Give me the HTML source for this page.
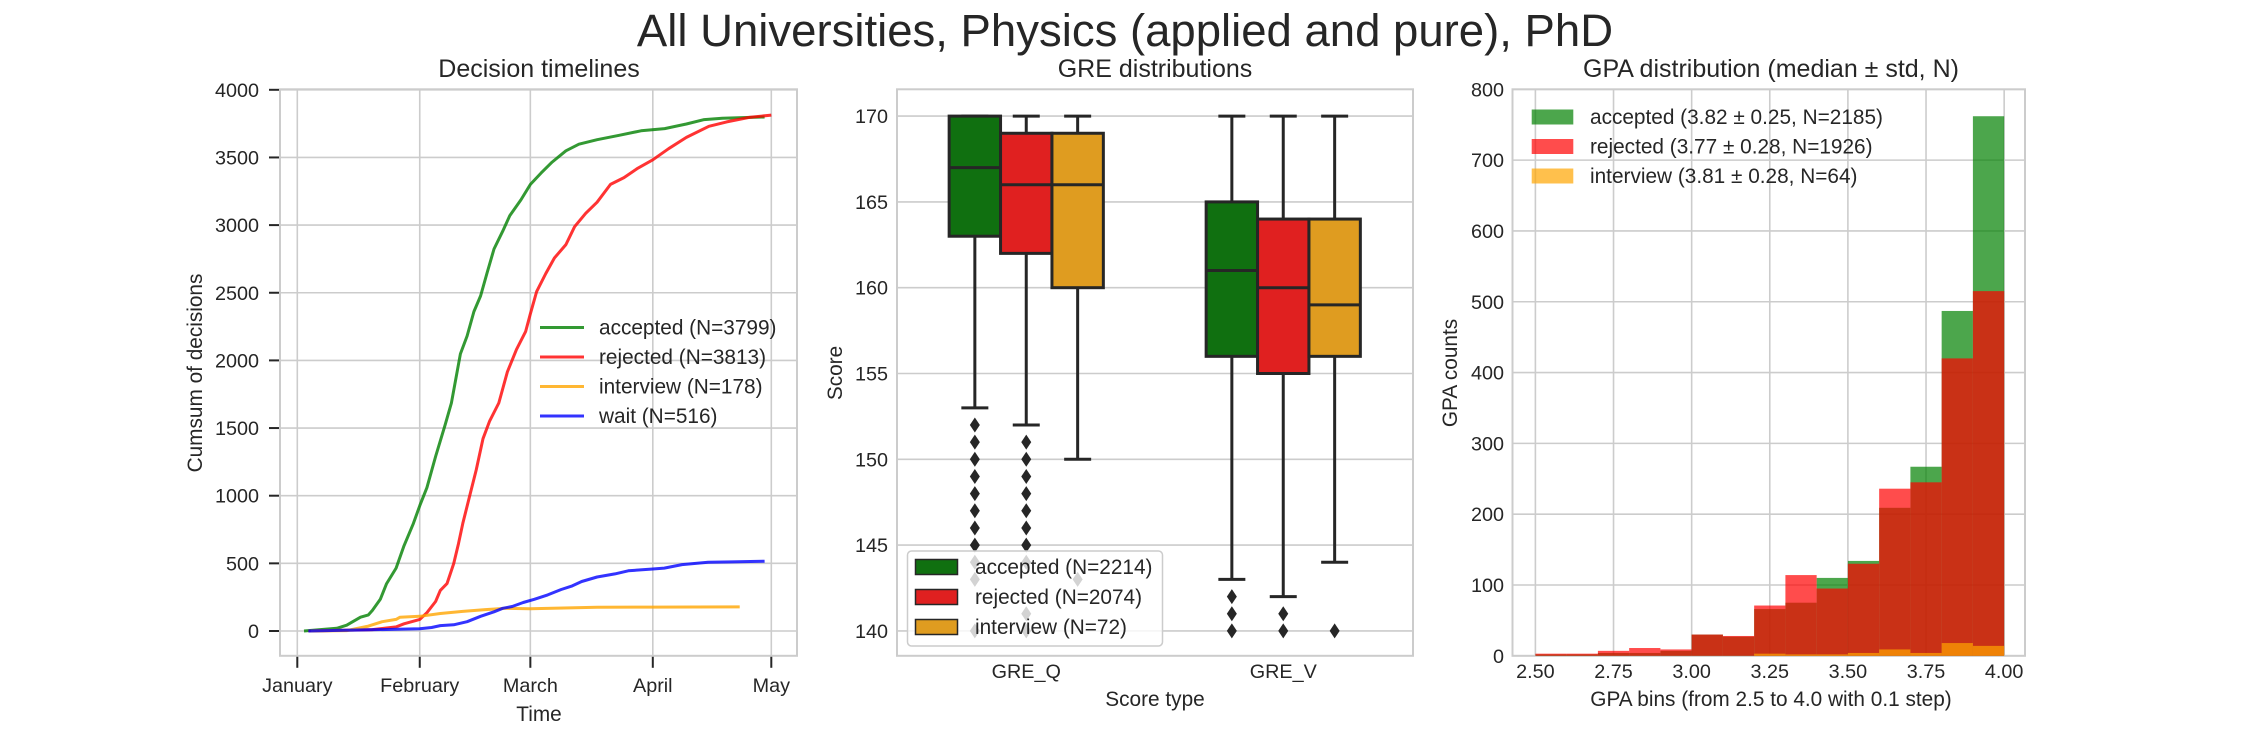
<!DOCTYPE html>
<html><head><meta charset="utf-8"><style>
body{margin:0;background:#fff}
svg{display:block;font-family:"Liberation Sans",Arial,sans-serif;fill:#262626}
</style></head><body>
<svg id="fig" width="2250" height="750" viewBox="0 0 2250 750" xmlns="http://www.w3.org/2000/svg">
<rect width="2250" height="750" fill="#fff"/>
<text x="1125" y="46" font-size="45.5" text-anchor="middle">All Universities, Physics (applied and pure), PhD</text>
<g id="p1"></g>
<g id="p2"></g>
<g id="p3"></g>
</svg>
<script>
// ---- Panel 1 data (day of year, cumulative count) ----
const monthLabels = ["January","February","March","April","May"];
const monthDays = [0,31,59,90,120];
const p1YTicks = [0,500,1000,1500,2000,2500,3000,3500,4000];
const accDays = [1.7,10,12.5,16,18,19,21,22.6,25,27,29.4,31,32.8,35,37.4,39,41.3,43,44.7,46.4,48,49.8,52,53.8,56.6,59,61.7,64.5,68,71.3,75.9,81.5,87,93,98.5,103,107.6,118.3];
const accVals = [0,20,43,102,119,152,234,350,465,630,795,927,1059,1290,1520,1685,2048,2180,2361,2477,2642,2823,2955,3070,3186,3301,3384,3466,3549,3598,3631,3664,3697,3713,3747,3780,3790,3799];
const rejDays = [2.8,19,25,27,31,32.8,35,36.2,37.9,39.6,40.8,41.9,43.6,45.3,47,48.7,51,53.2,55.5,57.8,59,60.6,62.9,65.1,68,70.2,73,75.9,79.3,82.7,86,90,94,98.5,104.2,108.7,114.4,120];
const rejVals = [0,10,30,53,86,135,218,300,350,498,646,795,993,1190,1421,1553,1685,1916,2081,2213,2345,2510,2642,2757,2856,2988,3087,3169,3301,3351,3417,3483,3565,3648,3730,3763,3796,3813];
const intDays = [3.4,12.5,18,21.5,25,26,31,36.2,41.9,47.6,53,59,75.9,90,112];
const intVals = [0,3,36,69,86,102,109,129,145,158,168,165,175,177,178];
const waitDays = [2.8,31,34,36.2,39.6,43,46.4,49.8,52,54.4,57.2,60,63.4,66.8,69.6,72,75.9,80.4,83.8,90,92.9,97.4,104,110,118.3];
const waitVals = [0,16,26,40,46,69,109,142,168,181,211,234,267,307,333,366,399,422,445,458,465,491,508,511,516];

// ---- Panel 2 data (box stats: whislo, q1, med, q3, whishi) ----
const greCategories = ["GRE_Q","GRE_V"];
const greTicks = [140,145,150,155,160,165,170];
const accBoxQ = [153,163,167,170,170];
const rejBoxQ = [152,162,166,169,170];
const intBoxQ = [150,160,166,169,170];
const accBoxV = [143,156,161,165,170];
const rejBoxV = [142,155,160,164,170];
const intBoxV = [144,156,159,164,170];
const accOutQ = [152,151,150,149,148,147,146,145,144,143,140];
const rejOutQ = [151,150,149,148,147,146,145,144,141,140];
const intOutQ = [143];
const accOutV = [142,141,140];
const rejOutV = [141,140];
const intOutV = [140];

// ---- Panel 3 data (GPA histogram counts per 0.1 bin from 2.5) ----
const gpaBinStarts = [2.5,2.6,2.7,2.8,2.9,3.0,3.1,3.2,3.3,3.4,3.5,3.6,3.7,3.8,3.9];
const gpaAccepted = [2,2,4,4,7,30,27,66,75,110,134,209,267,487,762];
const gpaRejected = [3,3,7,11,9,30,28,71,114,95,130,236,245,420,515];
const gpaInterview = [0,0,0,0,0,0,0,3,2,2,4,9,4,18,14];
const gpaTicks = [2.5,2.75,3.0,3.25,3.5,3.75,4.0];
const gpaYTicks = [0,100,200,300,400,500,600,700,800];

const NS="http://www.w3.org/2000/svg";
function mk(parent,tag,attrs,text){const e=document.createElementNS(NS,tag);for(const k in attrs)e.setAttribute(k,attrs[k]);if(text!==undefined)e.textContent=text;parent.appendChild(e);return e;}
const GRID="#cccccc", DARK="#262626";

// ================= Panel 1 =================
(function(){
const g=document.getElementById('p1');
const L=280,R=797,T=89.3,B=655.8;
const xs=d=>297.3+d*3.95, ys=v=>631-v*0.1353;
p1YTicks.forEach(v=>{
  const l=mk(g,'line',{x1:L,x2:R,y1:ys(v),y2:ys(v),stroke:GRID,'stroke-width':1.6});
  
  
  const tk=mk(g,'line',{x1:L-11,x2:L,y1:ys(v),y2:ys(v),stroke:DARK,'stroke-width':2});
  
  
  const t=mk(g,'text',{x:259,y:ys(v)+7,'font-size':19.8,'text-anchor':'end'},String(v));
  
  
});
monthDays.forEach((d,i)=>{
  const l=mk(g,'line',{x1:xs(d),x2:xs(d),y1:T,y2:B,stroke:GRID,'stroke-width':1.6});
  
  
  const tk=mk(g,'line',{x1:xs(d),x2:xs(d),y1:B,y2:B+12,stroke:DARK,'stroke-width':2});
  
  
  const t=mk(g,'text',{x:xs(d),y:692,'font-size':19.8,'text-anchor':'middle'},monthLabels[i]);
  
  
});
const fr=mk(g,'rect',{x:L,y:T,width:R-L,height:B-T,fill:'none',stroke:GRID,'stroke-width':2});


const series=[[accDays,accVals,'green','accepted'],[rejDays,rejVals,'red','rejected'],[intDays,intVals,'orange','interview'],[waitDays,waitVals,'blue','wait']];
series.forEach(s=>{
  const pts=s[0].map((d,i)=>xs(d).toFixed(1)+','+ys(s[1][i]).toFixed(1)).join(' ');
  const pl=mk(g,'polyline',{points:pts,fill:'none',stroke:s[2],'stroke-opacity':0.8,'stroke-width':3,'stroke-linejoin':'round'});
  
  
});
const leg=[['green','accepted (N=3799)'],['red','rejected (N=3813)'],['orange','interview (N=178)'],['blue','wait (N=516)']];
const ly=[327.5,357,386.5,416];
leg.forEach((e,i)=>{
  const l=mk(g,'line',{x1:540,x2:584,y1:ly[i],y2:ly[i],stroke:e[0],'stroke-opacity':0.8,'stroke-width':3});
  
  
  const t=mk(g,'text',{x:599,y:ly[i]+7,'font-size':20.8},e[1]);
  
  
});
const tt=mk(g,'text',{x:539,y:77,'font-size':25,'text-anchor':'middle'},'Decision timelines');


const xl=mk(g,'text',{x:539,y:721,'font-size':20.8,'text-anchor':'middle'},'Time');


const yl=mk(g,'text',{x:0,y:0,'font-size':20.8,'text-anchor':'middle',transform:'translate(202,373) rotate(-90)'},'Cumsum of decisions');


})();

// ================= Panel 2 =================
(function(){
const g=document.getElementById('p2');
const L=897,R=1413,T=89.3,B=655.8;
const ys=v=>116.1+(170-v)*17.16;
const cx=i=>1026.25+i*257;
greTicks.forEach(v=>{
  const l=mk(g,'line',{x1:L,x2:R,y1:ys(v),y2:ys(v),stroke:GRID,'stroke-width':1.6});
  
  
  const t=mk(g,'text',{x:888,y:ys(v)+7,'font-size':19.8,'text-anchor':'end'},String(v));
  
  
});
const fr=mk(g,'rect',{x:L,y:T,width:R-L,height:B-T,fill:'none',stroke:GRID,'stroke-width':2});


const colors=['#107010','#e02020','#df9c20'];
const names=['accepted','rejected','interview'];
const boxes=[[accBoxQ,rejBoxQ,intBoxQ],[accBoxV,rejBoxV,intBoxV]];
const outs=[[accOutQ,rejOutQ,intOutQ],[accOutV,rejOutV,intOutV]];
const bw=51.4;
boxes.forEach((grp,ci)=>{
  grp.forEach((s,hi)=>{
    const c=cx(ci)+(hi-1)*bw;
    const w1=mk(g,'line',{x1:c,x2:c,y1:ys(s[0]),y2:ys(s[1]),stroke:DARK,'stroke-width':3});
    
    
    const w2=mk(g,'line',{x1:c,x2:c,y1:ys(s[3]),y2:ys(s[4]),stroke:DARK,'stroke-width':3});
    
    
    [s[0],s[4]].forEach(v=>{
      const cap=mk(g,'line',{x1:c-13.5,x2:c+13.5,y1:ys(v),y2:ys(v),stroke:DARK,'stroke-width':3});
      
      
    });
    const b=mk(g,'rect',{x:c-bw/2,y:ys(s[3]),width:bw,height:ys(s[1])-ys(s[3]),fill:colors[hi],stroke:DARK,'stroke-width':3});
    
    
    const m=mk(g,'line',{x1:c-bw/2,x2:c+bw/2,y1:ys(s[2]),y2:ys(s[2]),stroke:DARK,'stroke-width':3});
    
    
    outs[ci][hi].forEach(v=>{
      const y=ys(v);
      const d=mk(g,'polygon',{points:`${c},${y-7.5} ${c+5},${y} ${c},${y+7.5} ${c-5},${y}`,fill:DARK});
      
      
    });
  });
  const t=mk(g,'text',{x:cx(ci),y:678,'font-size':19.8,'text-anchor':'middle'},greCategories[ci]);
  
  
});
const lg=mk(g,'rect',{x:907.5,y:551,width:255,height:95,rx:4,fill:'#fff','fill-opacity':0.8,stroke:GRID,'stroke-width':1.5});


const lt=['accepted (N=2214)','rejected (N=2074)','interview (N=72)'];
const lys=[567,597,627];
lt.forEach((s,i)=>{
  const p=mk(g,'rect',{x:915.5,y:lys[i]-7.5,width:42,height:15,fill:colors[i],stroke:DARK,'stroke-width':1.5});
  
  
  const t=mk(g,'text',{x:975,y:lys[i]+7,'font-size':20.8},s);
  
  
});
const tt=mk(g,'text',{x:1155,y:77,'font-size':25,'text-anchor':'middle'},'GRE distributions');


const xl=mk(g,'text',{x:1155,y:706,'font-size':20.8,'text-anchor':'middle'},'Score type');


const yl=mk(g,'text',{x:0,y:0,'font-size':20.8,'text-anchor':'middle',transform:'translate(842,373) rotate(-90)'},'Score');


})();

// ================= Panel 3 =================
(function(){
const g=document.getElementById('p3');
const L=1512.5,R=2025,T=89.3,B=655.8;
const xs=v=>1535.4+(v-2.5)*312.5, ys=v=>655.8-v*0.7081;
gpaYTicks.forEach(v=>{
  const l=mk(g,'line',{x1:L,x2:R,y1:ys(v),y2:ys(v),stroke:GRID,'stroke-width':1.6});
  
  
  const t=mk(g,'text',{x:1504,y:ys(v)+7,'font-size':19.8,'text-anchor':'end'},String(v));
  
  
});
gpaTicks.forEach(v=>{
  const l=mk(g,'line',{x1:xs(v),x2:xs(v),y1:T,y2:B,stroke:GRID,'stroke-width':1.6});
  
  
  const t=mk(g,'text',{x:xs(v),y:678,'font-size':19.8,'text-anchor':'middle'},v.toFixed(2));
  
  
});
const fr=mk(g,'rect',{x:L,y:T,width:R-L,height:B-T,fill:'none',stroke:GRID,'stroke-width':2});


const ser=[[gpaAccepted,'green','accepted'],[gpaRejected,'red','rejected'],[gpaInterview,'orange','interview']];
ser.forEach(s=>{
  s[0].forEach((v,i)=>{
    if(v<=0)return;
    const x0=xs(gpaBinStarts[i]), x1=xs(gpaBinStarts[i]+0.1);
    const r=mk(g,'rect',{x:x0,y:ys(v),width:x1-x0,height:ys(0)-ys(v),fill:s[1],'fill-opacity':0.7});
    
    
  });
});
const lt=[['green','accepted (3.82 ± 0.25, N=2185)'],['red','rejected (3.77 ± 0.28, N=1926)'],['orange','interview (3.81 ± 0.28, N=64)']];
const lys=[117,146.5,176];
lt.forEach((e,i)=>{
  const p=mk(g,'rect',{x:1531.7,y:lys[i]-7.5,width:41.6,height:15,fill:e[0],'fill-opacity':0.7});
  
  
  const t=mk(g,'text',{x:1590,y:lys[i]+7,'font-size':20.8},e[1]);
  
  
});
const tt=mk(g,'text',{x:1771,y:77,'font-size':25,'text-anchor':'middle'},'GPA distribution (median ± std, N)');


const xl=mk(g,'text',{x:1771,y:706,'font-size':20.8,'text-anchor':'middle'},'GPA bins (from 2.5 to 4.0 with 0.1 step)');


const yl=mk(g,'text',{x:0,y:0,'font-size':20.8,'text-anchor':'middle',transform:'translate(1457,373) rotate(-90)'},'GPA counts');


})();
</script>
</body></html>
